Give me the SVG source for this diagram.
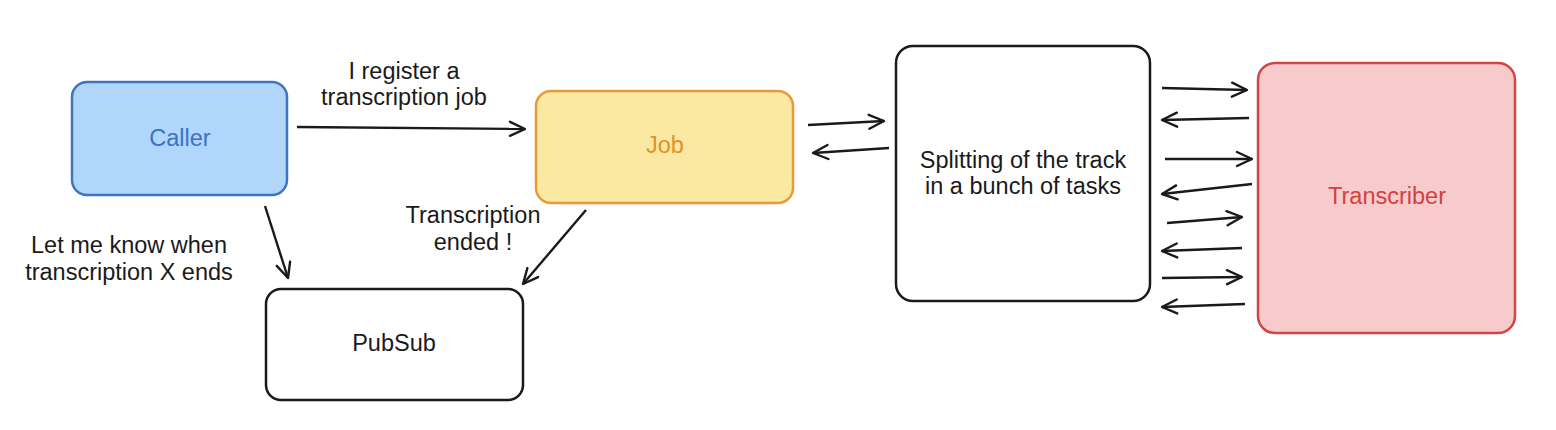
<svg xmlns="http://www.w3.org/2000/svg" width="1556" height="430" viewBox="0 0 1556 430">
<style>
  text { font-family: "Liberation Sans", Arial, Helvetica, sans-serif; font-size: 23.5px; text-anchor: middle; fill: #1a1a1a; }
  .box { stroke-width: 2.5; }
  .conn line { stroke: #1a1a1a; stroke-width: 2.4; fill: none; marker-end: url(#arr); }
</style>
<defs>
  <marker id="arr" markerUnits="userSpaceOnUse" markerWidth="20" markerHeight="20" viewBox="0 0 20 20" refX="17" refY="10" orient="auto">
    <path d="M2,3 L17,10 L2,17" fill="none" stroke="#1a1a1a" stroke-width="2.4" stroke-linecap="round" stroke-linejoin="round"/>
  </marker>
</defs>
<rect width="1556" height="430" fill="#ffffff"/>
<g id="caller">
  <rect class="box" x="72" y="82" width="215" height="113" rx="15" fill="#b1d6fb" stroke="#3d74c4"/>
  <text x="180" y="146" style="fill:#3b73c4">Caller</text>
</g>
<g id="job">
  <rect class="box" x="536" y="91" width="257" height="112" rx="15" fill="#fbe9a1" stroke="#e69a38"/>
  <text x="665" y="153" style="fill:#e2902c">Job</text>
</g>
<g id="splitting">
  <rect class="box" x="896" y="46" width="254" height="255" rx="17" fill="#ffffff" stroke="#1a1a1a"/>
  <text x="1023" y="168">Splitting of the track</text>
  <text x="1023" y="194">in a bunch of tasks</text>
</g>
<g id="transcriber">
  <rect class="box" x="1258" y="63" width="257" height="270" rx="17" fill="#f7cbcb" stroke="#d34545"/>
  <text x="1387" y="204" style="fill:#d24141">Transcriber</text>
</g>
<g id="pubsub">
  <rect class="box" x="266" y="289" width="257" height="111" rx="15" fill="#ffffff" stroke="#1a1a1a"/>
  <text x="394" y="351">PubSub</text>
</g>
<g id="labels">
  <text x="404" y="79">I register a</text>
  <text x="404" y="105">transcription job</text>
  <text x="129" y="253">Let me know when</text>
  <text x="129" y="280">transcription X ends</text>
  <text x="473" y="223">Transcription</text>
  <text x="473" y="250">ended !</text>
</g>
<g id="connectors" class="conn">
  <line x1="297" y1="127" x2="525" y2="129"/>
  <line x1="265" y1="206" x2="288" y2="278"/>
  <line x1="586" y1="210" x2="523" y2="284"/>
  <line x1="808" y1="125" x2="884" y2="121"/>
  <line x1="889" y1="148" x2="813" y2="153"/>
  <line x1="1162" y1="88" x2="1247" y2="90"/>
  <line x1="1249" y1="118" x2="1162" y2="120"/>
  <line x1="1165" y1="159" x2="1252" y2="159"/>
  <line x1="1252" y1="184" x2="1162" y2="194"/>
  <line x1="1167" y1="223" x2="1242" y2="217"/>
  <line x1="1242" y1="248" x2="1162" y2="251"/>
  <line x1="1162" y1="278" x2="1242" y2="277"/>
  <line x1="1245" y1="304" x2="1162" y2="307"/>
</g>
</svg>
